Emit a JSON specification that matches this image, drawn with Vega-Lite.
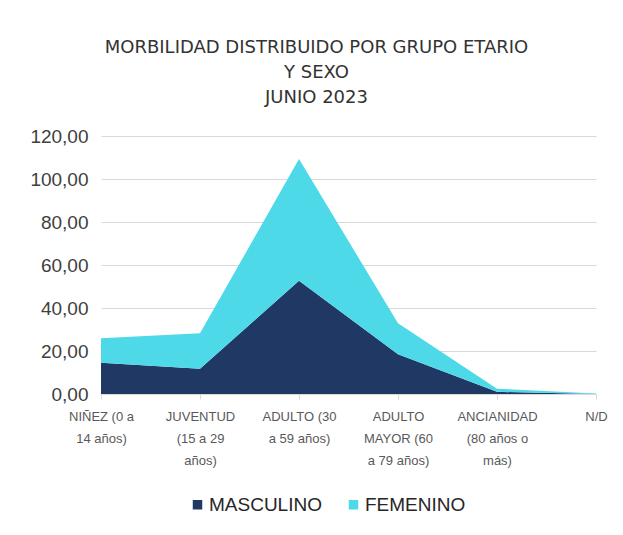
{
  "$schema": "https://vega.github.io/schema/vega-lite/v6.json",
  "width": 495,
  "height": 258,
  "autosize": "none",
  "padding": {"left": 101, "top": 136, "right": 27, "bottom": 141},
  "background": "white",
  "title": {
    "text": ["MORBILIDAD DISTRIBUIDO POR GRUPO ETARIO", "Y SEXO", "JUNIO 2023"],
    "font": "DejaVu Sans",
    "fontSize": 18,
    "fontWeight": "normal",
    "color": "#333333",
    "lineHeight": 25,
    "anchor": "middle",
    "dx": -32,
    "offset": 20
  },
  "data": {
    "values": [
      {"grupo": "NIÑEZ (0 a 14 años)", "sexo": "MASCULINO", "valor": 14.5},
      {"grupo": "JUVENTUD (15 a 29 años)", "sexo": "MASCULINO", "valor": 11.8},
      {"grupo": "ADULTO (30 a 59 años)", "sexo": "MASCULINO", "valor": 52.7},
      {"grupo": "ADULTO MAYOR (60 a 79 años)", "sexo": "MASCULINO", "valor": 18.5},
      {"grupo": "ANCIANIDAD (80 años o más)", "sexo": "MASCULINO", "valor": 1.0},
      {"grupo": "N/D", "sexo": "MASCULINO", "valor": 0.0},
      {"grupo": "NIÑEZ (0 a 14 años)", "sexo": "FEMENINO", "valor": 11.4},
      {"grupo": "JUVENTUD (15 a 29 años)", "sexo": "FEMENINO", "valor": 16.4},
      {"grupo": "ADULTO (30 a 59 años)", "sexo": "FEMENINO", "valor": 56.6},
      {"grupo": "ADULTO MAYOR (60 a 79 años)", "sexo": "FEMENINO", "valor": 14.4},
      {"grupo": "ANCIANIDAD (80 años o más)", "sexo": "FEMENINO", "valor": 1.5},
      {"grupo": "N/D", "sexo": "FEMENINO", "valor": 0.2}
    ]
  },
  "mark": {"type": "area", "opacity": 1},
  "encoding": {
    "x": {
      "field": "grupo",
      "type": "ordinal",
      "sort": null,
      "scale": {"padding": 0},
      "axis": {
        "title": null,
        "labelAngle": 0,
        "labelFont": "Liberation Sans Narrow, Liberation Sans",
        "labelFontSize": 13,
        "labelColor": "#595959",
        "labelLineHeight": 22,
        "labelPadding": 11,
        "labelBaseline": "top",
        "domainColor": "#D9D9D9",
        "tickColor": "#D9D9D9",
        "tickSize": 5,
        "grid": false,
        "labelExpr": "datum.value == 'NIÑEZ (0 a 14 años)' ? ['NIÑEZ (0 a','14 años)'] : datum.value == 'JUVENTUD (15 a 29 años)' ? ['JUVENTUD','(15 a 29','años)'] : datum.value == 'ADULTO (30 a 59 años)' ? ['ADULTO (30','a 59 años)'] : datum.value == 'ADULTO MAYOR (60 a 79 años)' ? ['ADULTO','MAYOR (60','a 79 años)'] : datum.value == 'ANCIANIDAD (80 años o más)' ? ['ANCIANIDAD','(80 años o','más)'] : datum.value"
      }
    },
    "y": {
      "field": "valor",
      "type": "quantitative",
      "stack": "zero",
      "scale": {"domain": [0, 120], "nice": false},
      "axis": {
        "title": null,
        "values": [0, 20, 40, 60, 80, 100, 120],
        "labelExpr": "replace(format(datum.value, '.2f'), '.', ',')",
        "labelFont": "Liberation Sans",
        "labelFontSize": 19,
        "labelColor": "#404040",
        "labelPadding": 13,
        "ticks": false,
        "domain": false,
        "gridColor": "#D9D9D9",
        "gridWidth": 1.2
      }
    },
    "color": {
      "field": "sexo",
      "type": "nominal",
      "sort": ["MASCULINO", "FEMENINO"],
      "scale": {"domain": ["MASCULINO", "FEMENINO"], "range": ["#203864", "#4DD9E8"]},
      "legend": {
        "title": null,
        "orient": "none",
        "direction": "horizontal",
        "legendX": 87,
        "legendY": 359,
        "symbolType": "square",
        "symbolSize": 90,
        "symbolStrokeWidth": 0,
        "labelFont": "Liberation Sans",
        "labelFontSize": 19,
        "labelColor": "#262626",
        "labelOffset": 2,
        "columnPadding": 22
      }
    },
    "order": {"field": "sexo", "sort": "descending"}
  },
  "config": {"view": {"stroke": null}}
}
